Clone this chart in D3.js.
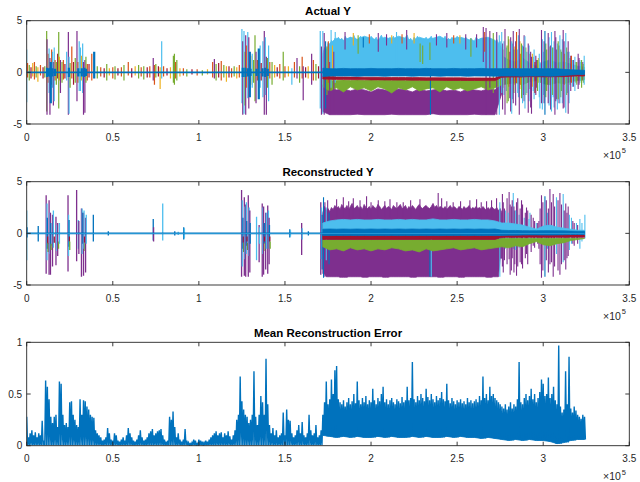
<!DOCTYPE html>
<html><head><meta charset="utf-8">
<script src="https://cdn.jsdelivr.net/npm/d3@7/dist/d3.min.js"></script>
<style>body{margin:0;background:#fff}svg{display:block}text{font-family:"Liberation Sans",Arial,Helvetica,sans-serif}</style>
</head><body><svg id="c" width="640" height="482"></svg>
<script>
// ---------------- DATA ----------------
const titles = ["Actual Y", "Reconstructed Y", "Mean Reconstruction Error"];
const xTickValues = [0, 0.5, 1, 1.5, 2, 2.5, 3, 3.5];
const xTickLabels = ["0", "0.5", "1", "1.5", "2", "2.5", "3", "3.5"];
const yTicksSignal = [-5, 0, 5];
const yTickLabelsSignal = ["-5", "0", "5"];
const yTicksError = [0, 0.5, 1];
const yTickLabelsError = ["0", "0.5", "1"];
const xExponent = "5";
const seriesColors = ["#0072BD", "#D95319", "#EDB120", "#7E2F8E", "#77AC30", "#4DBEEE", "#A2142F"];

// coarse envelope sample positions of the dense segment (x 1e5)
const bandX = [1.72,1.76,1.80,1.84,1.88,1.92,1.96,2.00,2.04,2.08,2.12,2.16,2.20,2.24,2.28,2.32,2.36,2.40,2.44,2.48,2.52,2.56,2.60,2.64,2.68,2.72,2.76,2.80,2.84,2.88,2.92,2.96,3.00,3.04,3.08,3.12,3.16,3.20,3.24];
// fine envelopes start at 1.72 with 0.01 spacing
const fineStart = 1.72, fineStep = 0.01;

// Actual Y - envelopes of the dense segment
const actLightBlueTop = [
1.8,2.4,2.0,2.9,2.6,3.1,2.8,3.3,3.0,3.4,
3.1,3.3,2.9,3.5,3.2,3.0,3.4,3.1,3.6,3.2,
3.0,3.3,3.5,3.1,2.9,3.4,3.2,3.0,3.5,3.3,
3.1,3.4,3.0,3.3,3.6,3.2,2.9,3.3,3.1,3.4,
3.2,3.5,3.0,3.3,3.1,3.4,3.2,2.9,3.4,3.6,
3.1,3.3,3.0,3.4,3.2,3.5,3.1,3.3,2.9,3.2,
3.4,3.1,3.3,3.5,3.0,3.2,3.4,3.1,3.3,3.0,
3.2,3.5,3.1,3.3,3.0,3.4,3.2,3.1,3.5,3.2,
3.0,3.3,3.1,3.4,3.2,2.9,3.3,3.1,3.0,3.4,
3.2,3.0,3.3,3.1,2.9,3.2,3.0,3.3,2.8,3.1,
2.9,3.2,2.8,3.0,2.0];
const actLightBlueHi = [1.5,2.8,3.3,3.1,3.4,3.2,3.5,3.3,3.1,3.4,3.2,3.5,3.3,3.0,3.4,3.2,3.3,3.5,3.1,3.3,3.4,3.2,3.0,3.3,3.4,3.1,1.6,1.2,1.0,1.4,0.9,0.6,1.0,1.2,0.9,1.0,0.8,0.6,0.5];
const actPurpleHi = [-1.2,-1.5,-1.7,-1.6,-1.8,-1.6,-1.7,-1.9,-1.6,-1.7,-1.8,-1.6,-1.7,-1.9,-1.6,-1.8,-1.7,-1.6,-1.8,-1.7,-1.9,-1.6,-1.7,-1.8,-1.6,-1.7,-1.0];
const actPurpleLo = [-3.8,-4.1,-4.1,-4.1,-4.1,-4.05,-4.1,-4.1,-4.1,-4.1,-4.05,-4.1,-4.1,-4.1,-4.1,-4.1,-4.0,-4.1,-4.1,-4.1,-4.1,-4.1,-4.05,-4.1,-4.1,-4.1,-2.0];
const actGreenHi = [-0.7,-0.75,-0.8,-0.75,-0.8,-0.75,-0.8,-0.75,-0.8,-0.75,-0.8,-0.75,-0.8,-0.75,-0.8,-0.75,-0.8,-0.75,-0.8,-0.75,-0.8,-0.75,-0.8,-0.75,-0.8,-0.75,-0.55,-0.5,-0.5,-0.55,-0.5,-0.45,-0.5,-0.55,-0.5,-0.5,-0.45,-0.45,-0.4];
const actGreenLo = [-1.4,-1.8,-1.5,-1.9,-1.4,-1.7,-1.5,-1.8,-1.4,-1.6,-2.0,-1.5,-1.7,-1.4,-1.8,-1.6,-1.5,-1.9,-1.4,-1.7,-1.5,-1.8,-1.6,-1.4,-1.7,-1.5,-1.2,-1.1,-1.0,-1.2,-0.9,-0.8,-1.1,-1.2,-1.0,-1.1,-0.9,-0.8,-0.7];
const actRedHi = [-0.4,-0.42,-0.44,-0.45,-0.46,-0.46,-0.47,-0.48,-0.48,-0.49,-0.5,-0.5,-0.5,-0.51,-0.51,-0.52,-0.52,-0.52,-0.53,-0.53,-0.53,-0.54,-0.54,-0.54,-0.55,-0.55,-0.28,-0.25,-0.25,-0.25,-0.22,-0.22,-0.24,-0.24,-0.22,-0.22,-0.2,-0.2,-0.2];
const actRedLo = [-0.65,-0.67,-0.69,-0.7,-0.71,-0.71,-0.72,-0.73,-0.73,-0.74,-0.75,-0.75,-0.75,-0.76,-0.76,-0.77,-0.77,-0.77,-0.78,-0.78,-0.78,-0.79,-0.79,-0.79,-0.8,-0.8,-0.48,-0.45,-0.45,-0.45,-0.42,-0.42,-0.44,-0.44,-0.42,-0.42,-0.38,-0.36,-0.36];
const actBlueHi = [0.4,0.35,0.35,0.38,0.35,0.36,0.35,0.38,0.35,0.36,0.35,0.38,0.35,0.36,0.35,0.38,0.35,0.36,0.35,0.38,0.35,0.36,0.35,0.38,0.35,0.36,0.35,0.38,0.35,0.36,0.35,0.38,0.35,0.36,0.35,0.3,0.25,0.22,0.2];
const actBlueLo = [-0.4,-0.35,-0.35,-0.36,-0.35,-0.38,-0.35,-0.36,-0.35,-0.38,-0.35,-0.36,-0.35,-0.38,-0.35,-0.36,-0.35,-0.38,-0.35,-0.36,-0.35,-0.38,-0.35,-0.36,-0.35,-0.38,-0.35,-0.36,-0.35,-0.38,-0.35,-0.36,-0.35,-0.38,-0.35,-0.3,-0.25,-0.22,-0.2];

// Actual Y - individual bursts: [x (1e5), series, max, min]
const actBursts = [
[0.000,5,2.2,-2.9],[0.005,1,0.9,-0.5],[0.015,4,0.7,-0.8],[0.025,6,0.5,-0.6],[0.035,2,0.9,-0.4],[0.045,1,1.0,-0.7],[0.055,4,0.6,-0.5],[0.065,2,0.5,-0.9],[0.080,1,0.7,-0.3],[0.095,6,0.5,-0.6],[0.105,4,0.6,-0.5],
[0.116,4,4.0,-3.8],[0.118,3,3.2,-4.1],[0.125,1,1.8,-1.0],[0.130,5,2.3,-2.0],[0.135,3,1.4,-4.1],[0.140,0,1.0,-3.0],[0.145,1,2.2,-1.2],[0.150,5,2.0,-1.5],[0.155,3,1.0,-3.2],[0.160,5,2.4,-2.8],[0.165,1,1.2,-0.8],[0.172,4,1.0,-1.2],[0.180,6,1.8,-0.6],[0.186,4,3.9,-3.5],[0.190,2,1.5,-0.8],[0.196,3,1.2,-2.0],[0.205,4,1.0,-1.0],[0.213,1,1.2,-0.7],[0.222,6,0.8,-0.6],[0.232,5,2.0,-0.8],
[0.242,3,3.9,-4.1],[0.246,5,1.5,-4.0],[0.252,4,0.9,-1.5],[0.262,1,2.5,-0.6],[0.272,6,1.0,-1.2],[0.282,4,1.4,-1.0],[0.292,3,4.0,-2.8],[0.298,1,1.0,-1.0],[0.305,5,3.0,-1.8],[0.312,5,2.4,-1.8],[0.318,2,1.6,-0.8],[0.325,5,2.8,-2.0],[0.330,3,1.0,-4.1],[0.338,3,1.2,-3.9],[0.344,4,1.5,-1.0],[0.352,1,0.8,-0.8],[0.362,6,0.8,-0.5],[0.378,1,1.8,-0.8],[0.392,0,2.0,-0.6],
[0.41,4,0.6,-0.6],[0.43,1,0.5,-0.4],[0.45,6,0.4,-0.5],[0.465,4,0.8,-0.8],[0.48,2,0.4,-0.3],[0.50,1,0.5,-0.6],[0.513,4,0.6,-0.7],[0.53,6,0.4,-0.3],[0.55,1,0.5,-0.4],[0.565,4,0.7,-0.8],[0.59,1,1.0,-0.3],[0.61,6,0.4,-0.5],[0.63,2,0.6,-0.3],[0.65,4,0.7,-0.6],[0.665,1,0.5,-0.4],[0.68,4,0.6,-0.7],[0.70,6,0.5,-0.5],[0.715,1,0.6,-0.5],[0.735,3,1.4,-0.8],[0.742,1,0.7,-1.2],[0.75,4,0.8,-0.5],[0.765,6,0.6,-0.4],[0.775,2,0.5,-1.6],[0.784,5,3.0,-0.6],[0.795,1,0.6,-0.4],[0.815,6,0.4,-0.3],[0.835,2,0.5,-0.6],[0.852,4,1.6,-1.0],[0.858,4,1.8,-1.2],[0.865,1,1.0,-0.6],[0.872,4,1.2,-0.8],[0.89,2,0.4,-0.4],[0.91,1,0.4,-0.3],[0.93,4,0.3,-0.4],[0.96,6,0.3,-0.2],[0.99,1,0.3,-0.3],[1.02,4,0.2,-0.3],[1.05,2,0.3,-0.2],
[1.08,1,1.0,-0.5],[1.09,3,1.3,-0.6],[1.10,4,0.8,-0.8],[1.115,6,0.9,-0.5],[1.13,1,1.1,-0.8],[1.145,4,0.7,-0.5],[1.16,2,0.6,-0.9],[1.175,6,0.6,-0.5],[1.19,1,0.4,-0.5],[1.205,4,0.6,-0.4],[1.22,2,0.5,-0.6],[1.235,1,0.7,-0.5],
[1.250,5,4.2,-3.0],[1.255,3,3.0,-4.1],[1.262,5,4.0,-4.0],[1.268,4,2.0,-3.2],[1.272,3,3.6,-4.1],[1.278,1,2.6,-1.5],[1.284,5,3.9,-2.5],[1.290,3,3.4,-3.5],[1.296,0,2.0,-2.4],[1.302,2,1.6,-1.2],[1.310,5,1.8,-1.5],[1.318,4,1.2,-1.0],[1.326,4,3.6,-2.8],[1.332,3,2.0,-3.0],[1.340,1,1.2,-0.8],[1.348,0,2.3,-2.6],[1.356,5,2.6,-1.5],[1.362,6,0.9,-0.8],[1.372,5,3.0,-2.4],[1.380,3,4.0,-4.1],[1.386,5,3.4,-2.2],[1.392,3,1.5,-4.1],[1.398,4,1.4,-1.5],[1.405,5,2.6,-2.8],[1.412,1,1.0,-0.6],[1.425,4,1.0,-1.2],[1.44,2,0.7,-0.5],[1.455,6,0.5,-0.4],[1.47,1,0.8,-0.6],[1.49,4,2.0,-0.8],[1.50,1,0.6,-0.5],[1.52,2,0.6,-0.4],[1.54,5,0.4,-1.2],[1.555,1,1.0,-0.5],[1.57,3,1.4,-0.6],[1.585,4,0.6,-1.0],[1.60,1,1.5,-0.6],[1.606,3,0.6,-2.7],[1.62,6,0.5,-0.5],[1.635,2,0.6,-0.6],[1.655,3,1.8,-1.2],[1.665,1,1.2,-0.8],[1.68,4,0.8,-0.8],[1.695,6,0.6,-0.6],[1.705,5,4.0,-3.5],[1.712,3,2.5,-4.1],
[0.118,0,0.45,-0.45],[0.128,0,0.4,-0.4],[0.138,0,0.45,-0.45],[0.150,0,0.4,-0.4],[0.165,0,0.35,-0.35],[0.245,0,0.45,-0.45],[0.300,0,0.4,-0.4],[0.320,0,0.4,-0.4],[0.335,0,0.45,-0.45],[0.345,0,0.35,-0.35],[1.255,0,0.45,-0.45],[1.270,0,0.45,-0.45],[1.285,0,0.4,-0.4],[1.300,0,0.35,-0.35],[1.335,0,0.35,-0.35],[1.370,0,0.4,-0.4],[1.385,0,0.45,-0.45],[1.400,0,0.35,-0.35]
];
const actDenseSpikes = [
[1.720,5,4.0,-4.0],[1.728,3,3.8,-4.1],[1.736,0,3.0,-3.5],[1.744,4,2.5,-2.2],[1.752,1,3.0,-1.0],[1.760,3,1.0,-4.1],[1.768,5,4.1,-1.5],[1.776,2,2.6,-0.8],[1.784,3,2.0,-3.8],[1.792,5,3.9,-1.0],
[1.849,3,3.9,2.2],[1.897,2,3.8,2.6],[1.925,4,3.6,1.8],[1.955,0,3.4,2.4],[1.990,1,3.7,2.8],[2.042,3,3.8,2.0],[2.090,3,3.7,2.6],[2.120,2,3.6,2.8],[2.148,5,3.9,0],[2.180,1,3.7,2.8],[2.207,3,4.1,2.2],[2.250,2,3.8,2.8],[2.285,4,2.8,1.0],[2.300,4,2.6,0.8],[2.342,4,2.9,1.2],[2.345,0,0.4,-4.1],[2.380,3,3.7,2.6],[2.440,3,3.8,2.4],[2.480,1,3.6,2.8],[2.516,2,3.6,2.8],[2.550,3,3.7,2.2],[2.580,4,3.3,1.5],[2.613,3,3.7,2.4],[2.652,3,4.4,1.0],[2.660,1,3.9,2.0],[2.668,3,4.3,-4.1],[2.690,3,4.0,-1.5],[2.710,4,3.8,-2.0],[2.730,3,3.9,-4.1],[2.745,5,3.6,-4.1],
[2.768,2,2.2,-1.5],[2.786,5,2.4,-1.8],[2.806,3,2.0,-2.5],[2.835,2,2.5,-1.2],[2.852,5,2.2,-2.0],[2.868,1,1.8,-1.2],[2.884,3,2.5,-2.2],[2.905,5,2.0,-2.0],[2.922,4,1.8,-1.6],[2.942,5,1.5,-1.8],[2.962,3,1.2,-1.5],[2.972,2,1.4,-1.0],[3.000,5,2.0,-2.2],[3.020,4,2.2,-1.8],[3.038,1,2.5,-1.0],[3.058,5,2.4,-2.4],[3.078,3,2.2,-2.6],[3.106,4,2.0,-1.8],[3.124,2,1.8,-1.2],[3.140,5,2.0,-2.0],[3.155,4,1.4,-1.2],[3.175,3,1.2,-1.4],[3.195,4,1.0,-1.2],[3.213,5,1.2,-1.0],[3.230,3,1.0,-0.8],
[2.764,3,2.8,-3.6],[2.772,5,3.0,-2.2],[2.790,4,2.6,-3.0],[2.800,1,3.2,-1.4],[2.811,3,3.4,-3.8],[2.821,5,2.8,-2.6],[2.830,4,2.2,-2.0],[2.840,3,3.0,-3.2],[2.856,5,3.6,-2.4],[2.865,2,3.0,-1.6],[2.880,5,2.6,-3.0],[2.889,3,3.6,-2.8],[2.899,4,2.4,-2.2],[2.918,5,2.6,-2.8],[2.927,3,2.0,-3.4],[2.937,2,1.8,-1.4],[2.947,5,2.2,-2.6],[2.957,3,1.6,-2.2],[2.967,4,1.2,-1.8],[2.977,5,1.8,-2.4],[2.995,5,3.2,-3.6],[3.005,3,3.0,-3.0],[3.015,4,2.8,-2.4],[3.034,5,3.4,-3.2],[3.043,3,2.6,-3.6],[3.053,4,2.4,-2.2],[3.063,5,3.0,-3.4],[3.073,3,3.4,-2.8],[3.082,5,2.8,-3.6],[3.092,3,2.6,-3.0],[3.102,4,2.2,-2.4],[3.111,5,3.2,-3.0],[3.121,3,3.0,-3.4],[3.136,4,2.4,-2.2],[3.150,5,2.0,-3.0],[3.160,3,1.6,-1.8],[3.170,5,1.2,-1.4],[3.190,4,1.0,-1.0],[3.208,3,1.4,-1.2],[3.218,5,1.0,-0.8],[3.233,4,0.8,-1.0],
[2.759,5,3.9,-2.0],[2.778,3,4.2,-4.1],[2.797,4,3.5,-2.8],[2.817,5,3.0,-4.0],[2.826,3,4.0,-3.0],[2.845,1,3.9,-1.0],[2.861,3,4.2,-4.1],[2.874,4,2.8,-2.5],[2.894,5,3.5,-3.5],[2.913,3,2.8,-3.9],[2.932,3,1.5,-4.0],[2.952,6,1.0,-2.0],[2.981,5,1.0,-3.5],[2.990,3,4.1,-3.0],[3.010,0,4.0,-4.1],[3.029,3,3.8,-3.0],[3.048,5,3.9,-3.8],[3.068,3,4.0,-4.1],[3.087,4,3.0,-2.6],[3.097,5,3.6,-3.0],[3.116,3,4.1,-3.5],[3.131,5,3.8,-3.9],[3.145,3,3.0,-4.0],[3.164,1,1.6,-1.0],[3.184,5,1.5,-1.8],[3.203,3,1.8,-1.6],[3.223,4,1.2,-1.5],[3.238,5,1.6,-1.2]
];

// Reconstructed Y - envelopes of the dense segment
const recPurpleTop = [
2.0,2.6,2.2,2.4,2.1,2.5,2.3,2.7,2.4,2.6,
2.3,2.8,2.5,2.4,2.7,2.3,2.6,2.9,2.4,2.5,
2.7,2.4,2.6,2.3,2.8,2.5,2.4,2.6,2.3,2.7,
2.5,2.4,2.8,2.6,2.3,2.5,2.7,2.4,2.6,2.5,
2.3,2.7,2.5,2.4,2.6,2.8,2.4,2.5,2.7,2.3,
2.6,2.4,2.7,2.5,2.3,2.6,2.8,2.5,2.4,2.6,
2.7,2.5,2.4,2.6,2.9,2.5,2.7,2.4,2.6,2.5,
2.4,2.6,2.3,2.5,2.7,2.4,2.6,2.5,2.3,2.6,
2.5,2.3,2.6,2.4,2.5,2.7,2.3,2.5,2.4,2.6,
2.4,2.5,2.3,2.6,2.4,2.2,2.5,2.3,2.6,2.4,
2.3,2.5,2.2,2.4,2.0];
const recPurpleLo = [-3.9,-4.2,-4.2,-4.25,-4.2,-4.2,-4.25,-4.2,-4.2,-4.25,-4.2,-4.2,-4.2,-4.25,-4.2,-4.2,-4.2,-4.25,-4.2,-4.2,-4.25,-4.2,-4.2,-4.2,-4.25,-4.2,-2.4];
const recLightBlueHi = [1.0,1.2,1.3,1.35,1.3,1.35,1.3,1.3,1.35,1.3,1.3,1.35,1.3,1.35,1.3,1.3,1.4,1.3,1.3,1.35,1.3,1.3,1.35,1.3,1.3,1.2,1.0,1.0,0.9,0.8,0.6,0.4,0.7,0.8,0.6,0.5,0.4,0.3,0.3];
const recBlueHi = [0.4,0.42,0.4,0.42,0.4,0.42,0.4,0.42,0.4,0.42,0.4,0.42,0.4,0.42,0.4,0.42,0.4,0.42,0.4,0.42,0.4,0.42,0.4,0.42,0.4,0.42,0.3,0.28,0.28,0.26,0.25,0.25,0.26,0.26,0.25,0.24,0.22,0.2,0.2];
const recBlueLo = [-0.2,-0.22,-0.2,-0.22,-0.2,-0.22,-0.2,-0.22,-0.2,-0.22,-0.2,-0.22,-0.2,-0.22,-0.2,-0.22,-0.2,-0.22,-0.2,-0.22,-0.2,-0.22,-0.2,-0.22,-0.2,-0.22,-0.2,-0.18,-0.18,-0.16,-0.15,-0.15,-0.16,-0.16,-0.15,-0.14,-0.12,-0.1,-0.1];
const recRedHi = [-0.22,-0.22,-0.22,-0.22,-0.22,-0.22,-0.22,-0.22,-0.22,-0.22,-0.22,-0.22,-0.22,-0.22,-0.22,-0.22,-0.22,-0.22,-0.22,-0.22,-0.22,-0.22,-0.22,-0.22,-0.22,-0.22,-0.15,-0.15,-0.15,-0.15,-0.15,-0.15,-0.15,-0.15,-0.15,-0.15,-0.15,-0.15,-0.15];
const recRedLo = [-0.58,-0.58,-0.58,-0.58,-0.58,-0.58,-0.58,-0.58,-0.58,-0.58,-0.58,-0.58,-0.58,-0.58,-0.58,-0.58,-0.58,-0.58,-0.58,-0.58,-0.58,-0.58,-0.58,-0.58,-0.58,-0.58,-0.38,-0.38,-0.38,-0.38,-0.38,-0.38,-0.38,-0.38,-0.38,-0.38,-0.38,-0.38,-0.38];
const recGreenHi = [-0.65,-0.65,-0.65,-0.65,-0.65,-0.65,-0.65,-0.65,-0.65,-0.65,-0.65,-0.65,-0.65,-0.65,-0.65,-0.65,-0.65,-0.65,-0.65,-0.65,-0.65,-0.65,-0.65,-0.65,-0.65,-0.65,-0.5,-0.5,-0.5,-0.5,-0.5,-0.5,-0.5,-0.5,-0.5,-0.5,-0.5,-0.5,-0.5];
const recGreenLo = [-1.3,-1.6,-1.5,-1.7,-1.4,-1.6,-1.5,-1.7,-1.5,-1.6,-1.4,-1.5,-1.7,-1.6,-1.8,-1.5,-1.7,-1.6,-1.5,-1.4,-1.6,-1.5,-1.4,-1.6,-1.5,-1.4,-1.3,-1.4,-1.2,-1.3,-1.0,-0.8,-1.1,-1.2,-1.0,-0.9,-0.7,-0.6,-0.5];

// Reconstructed Y - bursts: [x (1e5), series, max, min]
const recBursts = [
[0.000,5,2.2,-2.6],[0.002,0,0.6,-0.4],[0.067,0,0.7,-0.8],
[0.113,3,3.7,-3.9],[0.118,5,2.9,-2.6],[0.120,0,1.5,-1.5],[0.122,6,-0.3,-1.0],[0.124,4,-0.9,-1.8],
[0.130,3,3.2,-4.0],[0.135,5,2.0,-2.0],[0.138,3,2.0,-4.0],[0.140,0,1.0,-1.2],[0.142,4,-1.0,-1.6],
[0.150,3,1.8,-3.2],[0.155,5,2.2,-1.4],[0.160,6,-0.3,-0.9],
[0.170,3,1.6,-3.1],[0.175,5,0.8,-1.7],[0.180,3,1.0,-2.2],[0.185,4,-0.8,-1.5],[0.190,5,1.0,-1.0],
[0.240,3,3.7,-3.7],[0.243,5,1.8,-2.2],[0.246,0,1.3,-1.3],[0.248,6,-0.3,-0.8],[0.250,4,-0.8,-1.6],
[0.290,3,4.2,-2.7],[0.300,5,1.3,-1.5],[0.303,3,1.2,-2.0],
[0.318,3,2.4,-4.2],[0.322,5,2.4,-2.0],[0.326,0,2.0,-1.0],[0.330,3,2.0,-4.1],[0.333,5,2.2,-1.5],[0.336,6,-0.3,-0.9],[0.338,4,-0.9,-1.7],[0.342,3,1.5,-3.8],[0.346,5,1.8,-1.0],
[0.387,0,1.8,-0.8],[0.474,0,0.2,-0.2],[0.735,0,1.4,-0.7],[0.737,3,0.6,-0.8],[0.790,5,2.9,-0.7],
[0.860,0,0.2,-0.2],[0.880,5,0.15,-0.15],[0.912,0,0.6,-0.6],[0.916,5,0.5,-0.5],
[1.248,3,4.2,-4.2],[1.252,5,3.2,-3.2],[1.256,0,1.5,-1.5],[1.258,6,-0.3,-0.9],[1.260,4,-0.9,-1.8],[1.264,3,3.5,-4.1],[1.268,5,2.6,-2.5],[1.272,3,2.8,-4.2],[1.276,5,3.0,-2.0],[1.278,0,1.2,-1.2],[1.280,6,-0.3,-0.8],[1.282,4,-0.9,-1.6],
[1.287,3,3.7,-4.2],[1.292,5,2.5,-2.2],[1.296,3,2.2,-3.8],[1.298,0,1.0,-1.0],
[1.335,5,1.6,-2.6],[1.350,3,0.8,-2.8],[1.352,5,0.6,-1.0],
[1.368,3,2.9,-4.2],[1.372,5,2.5,-2.0],[1.376,3,2.6,-4.0],[1.380,0,1.0,-1.0],[1.382,6,-0.3,-0.8],[1.384,4,-0.9,-1.7],[1.388,3,2.0,-3.5],[1.392,5,2.0,-1.5],
[1.400,3,2.7,-3.9],[1.404,5,2.2,-1.5],[1.408,3,1.5,-3.0],[1.410,0,0.8,-0.8],[1.412,6,-0.3,-0.8],[1.414,4,-0.8,-1.5],
[1.528,0,0.4,-0.4],[1.532,5,0.3,-0.3],[1.597,3,1.0,-2.1],[1.600,5,0.5,-0.6],[1.636,0,0.2,-0.2],
[1.708,3,3.0,-4.0],[1.712,5,2.5,-2.5],[1.716,0,1.8,-3.5]
];
const recDenseSpikes = [
[1.724,0,3.5,-4.3],[1.732,3,3.0,-4.2],[1.740,5,2.5,-2.6],[1.748,3,3.2,-4.0],[1.756,0,2.0,-3.0],
[1.800,3,3.3,1.5],[1.839,3,3.5,1.5],[1.870,3,3.1,1.5],[1.897,3,3.4,1.5],[1.936,3,3.2,1.5],[1.974,3,3.6,1.5],[2.000,3,3.0,1.5],[2.042,3,3.2,1.5],[2.080,3,3.1,1.5],[2.110,3,3.3,1.5],[2.150,3,3.0,1.5],[2.187,3,3.0,1.5],[2.230,3,3.2,1.5],[2.284,3,3.3,1.5],[2.342,0,1.0,-4.2],[2.350,5,1.2,-4.2],[2.390,3,3.9,1.5],[2.410,3,3.4,1.5],[2.440,3,3.1,1.5],[2.477,3,3.0,1.5],[2.520,3,3.1,1.5],[2.574,3,3.2,1.5],[2.613,3,3.3,1.5],[2.640,3,3.0,1.5],[2.671,3,3.1,1.5],[2.700,3,3.2,1.5],[2.729,3,3.4,1.5],[2.748,5,3.0,-4.2],
[2.763,3,3.8,-3.2],[2.780,5,2.2,-1.5],[2.802,3,4.0,-2.5],[2.815,3,2.6,-3.6],[2.826,5,3.9,-1.5],[2.835,3,2.2,-3.0],[2.845,3,3.0,-4.1],[2.860,5,1.8,-1.4],[2.874,3,3.2,-3.0],[2.890,5,1.5,-1.2],[2.903,3,2.5,-2.0],[2.923,5,2.0,-1.0],[2.942,3,1.5,-1.2],[2.960,5,1.0,-0.8],[2.975,3,1.2,-1.5],[2.990,3,3.7,-4.3],[3.010,0,3.6,-4.2],[3.025,5,2.0,-1.5],[3.039,3,4.3,-3.0],[3.058,3,3.8,-4.2],[3.077,5,3.5,-2.0],[3.097,3,3.9,-4.0],[3.116,5,3.8,-2.8],[3.131,3,2.9,-3.5],[3.145,3,2.6,-2.2],[3.164,5,1.5,-1.0],[3.180,3,1.0,-1.2],[3.193,5,1.0,-0.6],[3.213,5,1.4,-1.5],[3.242,5,1.8,-0.5],
[2.768,3,3.0,-3.8],[2.775,3,2.4,-2.6],[2.790,3,3.4,-3.0],[2.796,5,2.0,-1.2],[2.808,3,2.8,-4.0],[2.820,3,3.2,-2.4],[2.830,3,2.6,-3.8],[2.840,5,2.2,-1.6],[2.852,3,3.4,-3.2],[2.866,3,2.4,-2.8],[2.880,3,2.8,-3.4],[2.896,3,2.0,-2.4],[2.910,3,2.2,-3.0],[2.917,5,1.4,-1.0],[2.930,3,1.8,-1.8],[2.950,3,1.2,-1.4],[2.968,3,1.0,-1.0],[2.982,3,2.4,-3.0],[2.998,3,3.0,-3.6],[3.018,3,3.2,-2.6],[3.030,3,2.4,-3.8],[3.048,3,3.0,-2.8],[3.066,3,2.6,-3.2],[3.086,3,3.2,-3.6],[3.106,3,2.8,-3.0],[3.122,3,2.2,-2.6],[3.138,3,2.0,-2.4],[3.152,5,1.8,-1.6],[3.172,3,1.2,-1.0],[3.200,3,0.8,-1.0],[3.225,5,1.0,-0.8]
];

// Mean reconstruction error: peak per 0.01e5 bin, x = 0.00 ... 1.71
const errPeakSparse = [
0.28,0.08,0.12,0.15,0.10,0.13,0.08,0.12,0.10,0.24,
0.05,0.63,0.57,0.45,0.28,0.22,0.28,0.30,0.18,0.62,
0.60,0.30,0.20,0.22,0.18,0.42,0.43,0.30,0.25,0.20,
0.18,0.45,0.30,0.44,0.43,0.38,0.35,0.30,0.28,0.27,
0.15,0.12,0.10,0.08,0.05,0.06,0.08,0.17,0.12,0.06,
0.05,0.12,0.10,0.05,0.04,0.06,0.08,0.05,0.10,0.17,
0.12,0.08,0.05,0.04,0.06,0.10,0.15,0.08,0.05,0.06,
0.08,0.12,0.14,0.16,0.10,0.12,0.14,0.15,0.16,0.10,
0.06,0.04,0.05,0.28,0.25,0.33,0.18,0.08,0.12,0.06,
0.04,0.06,0.16,0.05,0.03,0.02,0.03,0.06,0.05,0.02,
0.06,0.05,0.04,0.03,0.05,0.04,0.06,0.08,0.10,0.12,
0.14,0.10,0.12,0.13,0.08,0.12,0.10,0.14,0.09,0.06,
0.10,0.15,0.25,0.30,0.67,0.43,0.35,0.30,0.28,0.22,
0.25,0.30,0.72,0.28,0.20,0.30,0.48,0.42,0.30,0.84,
0.40,0.20,0.12,0.17,0.10,0.15,0.08,0.10,0.12,0.32,
0.10,0.35,0.25,0.24,0.12,0.08,0.10,0.15,0.20,0.12,
0.23,0.10,0.08,0.12,0.30,0.15,0.10,0.12,0.20,0.08,
0.10,0.15
];
// peak per 0.01e5 bin, x = 1.72 ... 3.24
const errPeakDense = [
0.30,0.42,0.62,0.40,0.45,0.64,0.50,0.73,0.77,0.45,
0.42,0.40,0.44,0.38,0.42,0.46,0.40,0.43,0.50,0.41,
0.62,0.44,0.40,0.46,0.42,0.48,0.40,0.44,0.42,0.55,
0.44,0.40,0.46,0.43,0.50,0.57,0.42,0.45,0.40,0.44,
0.46,0.42,0.40,0.45,0.43,0.41,0.47,0.42,0.44,0.57,
0.44,0.46,0.81,0.45,0.42,0.48,0.44,0.50,0.46,0.43,
0.55,0.47,0.44,0.50,0.45,0.42,0.48,0.44,0.46,0.52,
0.45,0.43,0.60,0.44,0.41,0.46,0.43,0.40,0.44,0.42,
0.45,0.41,0.43,0.40,0.46,0.42,0.44,0.41,0.43,0.45,
0.42,0.48,0.44,0.67,0.46,0.50,0.44,0.57,0.48,0.50,
0.46,0.44,0.42,0.40,0.38,0.36,0.40,0.35,0.38,0.42,
0.36,0.40,0.38,0.45,0.81,0.42,0.40,0.46,0.50,0.44,
0.48,0.55,0.45,0.50,0.42,0.46,0.52,0.64,0.60,0.48,
0.50,0.66,0.46,0.50,0.57,0.44,0.40,0.97,0.38,0.32,
0.35,0.72,0.40,0.86,0.36,0.32,0.38,0.34,0.30,0.28,
0.26,0.30,0.28
];
// lower envelope and solid-core level of the dense segment, sampled at bandX
const errLowDense = [0.10,0.09,0.08,0.09,0.08,0.09,0.08,0.08,0.09,0.08,0.09,0.08,0.08,0.09,0.08,0.09,0.08,0.08,0.09,0.08,0.09,0.08,0.08,0.07,0.08,0.07,0.06,0.05,0.06,0.05,0.06,0.05,0.05,0.04,0.02,0.03,0.05,0.06,0.06];
const errCoreDense = [0.24,0.29,0.30,0.28,0.30,0.29,0.31,0.30,0.28,0.30,0.31,0.29,0.30,0.28,0.31,0.30,0.29,0.31,0.30,0.28,0.29,0.30,0.28,0.29,0.30,0.28,0.25,0.24,0.26,0.25,0.27,0.26,0.28,0.27,0.22,0.24,0.25,0.20,0.18];
const errSparseStart = 0.00, errDenseStart = 1.72, errBinWidth = 0.01;

// ---------------- DRAWING ----------------
const svg = d3.select("#c");
const AX = {left: 26.7, right: 629.3};
const axisColor = "#262626";
const x = d3.scaleLinear().domain([0, 3.5]).range([AX.left, AX.right]);
const panels = [
  {top: 20.7, bottom: 124.0, domain: [-5, 5], ticks: yTicksSignal, labels: yTickLabelsSignal, title: titles[0]},
  {top: 181.7, bottom: 285.0, domain: [-5, 5], ticks: yTicksSignal, labels: yTickLabelsSignal, title: titles[1]},
  {top: 342.3, bottom: 445.7, domain: [0, 1], ticks: yTicksError, labels: yTickLabelsError, title: titles[2]}
];
panels.forEach(p => { p.y = d3.scaleLinear().domain(p.domain).range([p.bottom, p.top]); });

const defs = svg.append("defs");
panels.forEach((p, i) => {
  defs.append("clipPath").attr("id", "clip" + i).append("rect")
    .attr("x", AX.left).attr("y", p.top).attr("width", AX.right - AX.left).attr("height", p.bottom - p.top);
});

function drawBand(g, y, hi, lo, color) {
  const n = Math.min(bandX.length, hi.length, lo ? lo.length : hi.length);
  const area = d3.area().x(i => x(bandX[i])).y0(i => y(lo ? lo[i] : 0)).y1(i => y(hi[i]));
  g.append("path").datum(d3.range(n)).attr("d", area).attr("fill", color).attr("stroke", color).attr("stroke-width", 0.8);
}
// fine top edge (0.01 spacing) over a coarse lower edge (bandX spacing)
function drawFineBand(g, y, top, lo, color) {
  const pts = top.map((v, i) => {
    const xv = fineStart + i * fineStep;
    const j = Math.min(lo.length - 1, Math.round((xv - bandX[0]) / (bandX[1] - bandX[0])));
    return [xv, v, lo[j]];
  });
  const area = d3.area().x(d => x(d[0])).y0(d => y(d[2])).y1(d => y(d[1]));
  g.append("path").datum(pts).attr("d", area).attr("fill", color).attr("stroke", color).attr("stroke-width", 0.8);
}
function drawLines(g, y, data, width) {
  g.selectAll(null).data(data).join("line")
    .attr("x1", d => x(d[0])).attr("x2", d => x(d[0]))
    .attr("y1", d => y(d[2])).attr("y2", d => y(d[3]))
    .attr("stroke", d => seriesColors[d[1]]).attr("stroke-width", width);
}
const zeroLo = bandX.map(() => 0);

// Panel 1: Actual Y
{
  const y = panels[0].y;
  const g = svg.append("g").attr("clip-path", "url(#clip0)");
  drawLines(g, y, actBursts.filter(d => d[1] !== 0), 1.2);
  drawBand(g, y, actPurpleHi, actPurpleLo, seriesColors[3]);
  drawBand(g, y, actGreenHi, actGreenLo, seriesColors[4]);
  drawBand(g, y, actLightBlueHi, zeroLo, seriesColors[5]);
  drawFineBand(g, y, actLightBlueTop, zeroLo, seriesColors[5]);
  drawLines(g, y, actDenseSpikes, 1.1);
  drawBand(g, y, actRedHi, actRedLo, seriesColors[6]);
  drawBand(g, y, actBlueHi, actBlueLo, seriesColors[0]);
  g.append("line").attr("x1", x(0)).attr("x2", x(3.24)).attr("y1", y(0)).attr("y2", y(0))
    .attr("stroke", seriesColors[0]).attr("stroke-width", 1.8);
  drawLines(g, y, actBursts.filter(d => d[1] === 0), 2.2);
}
// Panel 2: Reconstructed Y
{
  const y = panels[1].y;
  const g = svg.append("g").attr("clip-path", "url(#clip1)");
  drawLines(g, y, recBursts, 1.3);
  drawFineBand(g, y, recPurpleTop, recPurpleLo, seriesColors[3]);
  drawLines(g, y, recDenseSpikes, 1.1);
  drawBand(g, y, recLightBlueHi, zeroLo, seriesColors[5]);
  drawBand(g, y, recGreenHi, recGreenLo, seriesColors[4]);
  drawBand(g, y, recRedHi, recRedLo, seriesColors[6]);
  drawBand(g, y, recBlueHi, recBlueLo, seriesColors[0]);
  g.append("line").attr("x1", x(0)).attr("x2", x(3.24)).attr("y1", y(0)).attr("y2", y(0))
    .attr("stroke", seriesColors[0]).attr("stroke-width", 1.6);
  g.append("line").attr("x1", x(0)).attr("x2", x(3.24)).attr("y1", y(0)).attr("y2", y(0))
    .attr("stroke", seriesColors[5]).attr("stroke-width", 0.7).attr("opacity", 0.8);
}
// Panel 3: Mean Reconstruction Error (signal drawn as a line alternating peak/low per bin)
{
  const y = panels[2].y;
  const g = svg.append("g").attr("clip-path", "url(#clip2)");
  drawBand(g, y, errCoreDense, errLowDense, seriesColors[0]);
  const pts = [];
  errPeakSparse.forEach((v, i) => {
    const xv = errSparseStart + i * errBinWidth;
    pts.push([xv, v], [xv + errBinWidth / 2, 0.005]);
  });
  errPeakDense.forEach((v, i) => {
    const xv = errDenseStart + i * errBinWidth;
    const j = Math.min(errLowDense.length - 1, Math.round((xv - bandX[0]) / (bandX[1] - bandX[0])));
    pts.push([xv, v], [xv + errBinWidth / 2, errLowDense[j]]);
  });
  g.append("path").datum(pts).attr("d", d3.line().x(d => x(d[0])).y(d => y(d[1])))
    .attr("fill", "none").attr("stroke", seriesColors[0]).attr("stroke-width", 1.4).attr("stroke-linejoin", "miter");
}

// Frames, ticks, labels, titles
panels.forEach(p => {
  const g = svg.append("g");
  const y = p.y;
  g.append("rect").attr("x", AX.left).attr("y", p.top).attr("width", AX.right - AX.left).attr("height", p.bottom - p.top)
    .attr("fill", "none").attr("stroke", axisColor).attr("stroke-width", 0.9);
  const tl = 4;
  xTickValues.forEach((v, k) => {
    const xx = x(v);
    g.append("line").attr("x1", xx).attr("x2", xx).attr("y1", p.bottom).attr("y2", p.bottom - tl).attr("stroke", axisColor).attr("stroke-width", 0.9);
    g.append("line").attr("x1", xx).attr("x2", xx).attr("y1", p.top).attr("y2", p.top + tl).attr("stroke", axisColor).attr("stroke-width", 0.9);
    g.append("text").attr("x", xx).attr("y", p.bottom + 16.5).attr("text-anchor", "middle")
      .attr("font-size", 10).attr("fill", axisColor).text(xTickLabels[k]);
  });
  p.ticks.forEach((v, k) => {
    const yy = y(v);
    g.append("line").attr("x1", AX.left).attr("x2", AX.left + tl).attr("y1", yy).attr("y2", yy).attr("stroke", axisColor).attr("stroke-width", 0.9);
    g.append("line").attr("x1", AX.right).attr("x2", AX.right - tl).attr("y1", yy).attr("y2", yy).attr("stroke", axisColor).attr("stroke-width", 0.9);
    g.append("text").attr("x", AX.left - 4.5).attr("y", yy + 3.6).attr("text-anchor", "end")
      .attr("font-size", 10).attr("fill", axisColor).text(p.labels[k]);
  });
  const ex = g.append("text").attr("x", 603).attr("y", p.bottom + 34.5).attr("font-size", 10.5).attr("fill", axisColor);
  ex.append("tspan").text("\u00d710");
  ex.append("tspan").attr("dy", -5.5).attr("dx", 1).attr("font-size", 7.5).text(xExponent);
  g.append("text").attr("x", (AX.left + AX.right) / 2).attr("y", p.top - 5.5).attr("text-anchor", "middle")
    .attr("font-size", 11.5).attr("font-weight", "bold").attr("fill", "#000").text(p.title);
});
</script>
</body></html>
